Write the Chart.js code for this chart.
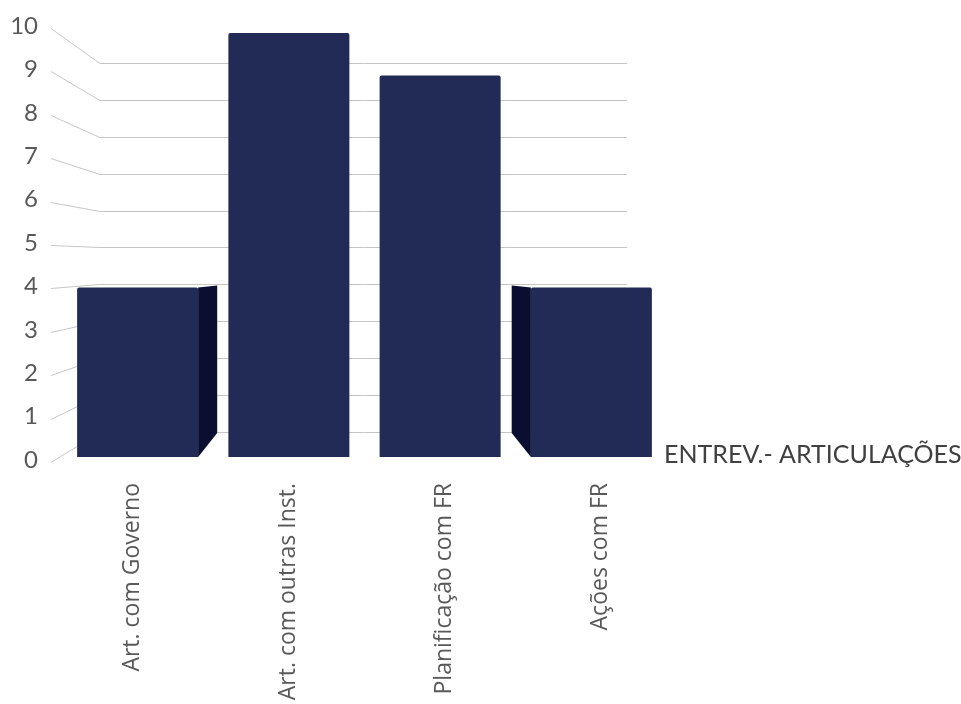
<!DOCTYPE html>
<html>
<head>
<meta charset="utf-8">
<script src="https://cdn.jsdelivr.net/npm/chart.js@4.4.1/dist/chart.umd.min.js"></script>
<style>
  body { margin: 0; background: #fff; }
</style>
</head>
<body>
<canvas id="articulacoes" width="961" height="704"></canvas>
<script>
// data -----------------------------------------------------------------
const categories = ['Art. com Governo', 'Art. com outras Inst.', 'Planificação com FR', 'Ações com FR'];
const values = [4, 10, 9, 4];
const yTicks = [0, 1, 2, 3, 4, 5, 6, 7, 8, 9, 10];
const seriesName = 'ENTREV.- ARTICULAÇÕES';

const barColor = '#222a56';
const sideColor = '#0a0e30';

// fake excel 3d: back wall grid + side faces of the bars
const depth3d = {
  id: 'depth3d',
  beforeDatasetsDraw(chart) {
    const {ctx, chartArea, scales} = chart;
    const y = scales.y, y2 = scales.y2;
    const backY = v => 34.3 + 0.87 * y.getPixelForValue(v);
    const wallX0 = chartArea.left - 11, wallX1 = chartArea.left + 38, wallX2 = chartArea.right - 40;
    ctx.save();
    ctx.strokeStyle = '#c6c6c6';
    ctx.lineWidth = 1;
    yTicks.forEach(v => {
      const fy = Math.round(y2.getPixelForValue(v) + 2) + 0.5;
      const by = Math.round(backY(v)) + 0.5;
      ctx.beginPath();
      ctx.moveTo(wallX0, fy);
      ctx.lineTo(wallX1, by);
      ctx.lineTo(wallX2, by);
      ctx.stroke();
    });
    ctx.restore();
  },
  afterDatasetsDraw(chart) {
    const {ctx} = chart;
    const meta = chart.getDatasetMeta(0);
    const cx = 364, k = 0.885;
    const bx = x => cx + (x - cx) * k;
    ctx.save();
    ctx.fillStyle = sideColor;
    meta.data.forEach(bar => {
      const p = bar.getProps(['x', 'y', 'base', 'width'], true);
      const left = p.x - p.width / 2, right = p.x + p.width / 2;
      const edge = right < cx ? right : (left > cx ? left : null);
      if (edge === null || Math.abs(bx(edge) - edge) < 3) return;
      ctx.beginPath();
      ctx.moveTo(edge, p.y);
      ctx.lineTo(bx(edge), p.y - 2);
      ctx.lineTo(bx(edge), p.base - 24);
      ctx.lineTo(edge, p.base);
      ctx.closePath();
      ctx.fill();
    });
    // series name, where excel put it
    ctx.fillStyle = '#404040';
    ctx.font = '25px Lato';
    ctx.textBaseline = 'middle';
    ctx.textAlign = 'left';
    ctx.fillText(chart.data.datasets[0].label, 664, 455);
    ctx.restore();
  }
};

const ctx = document.getElementById('articulacoes');
new Chart(ctx, {
  type: 'bar',
  data: {
    labels: categories,
    datasets: [
      {
        label: seriesName,
        data: values,
        backgroundColor: barColor,
        borderWidth: 0,
        borderRadius: 2,
        barPercentage: 0.8,
        categoryPercentage: 1,
        xAxisID: 'x',
        yAxisID: 'y'
      }
    ]
  },
  options: {
    responsive: false,
    animation: false,
    layout: {
      padding: {top: 20, right: 294, left: 0, bottom: 0}
    },
    scales: {
      x: {
        display: false
      },
      // label axis, spread a bit wider like the perspective front edge
      x2: {
        type: 'linear',
        position: 'bottom',
        offset: false,
        min: -0.448,
        max: 3.423,
        grid: {display: false, drawTicks: false, offset: false},
        border: {display: false},
        afterBuildTicks(axis) {
          axis.ticks = categories.map((c, i) => ({value: i}));
        },
        ticks: {
          autoSkip: false,
          minRotation: 90,
          maxRotation: 90,
          padding: 26,
          color: '#595959',
          font: {family: 'Open Sans', size: 23},
          callback: v => categories[v]
        },
        afterFit(scale) {
          scale.height = 247;
          scale.paddingLeft = 0;
          scale.paddingRight = 0;
        }
      },
      y: {
        display: false,
        min: 0,
        max: 10.307
      },
      y2: {
        position: 'left',
        min: 0.069,
        max: 10.138,
        grid: {display: false, drawTicks: false},
        border: {display: false},
        afterBuildTicks(axis) {
          axis.ticks = yTicks.map(v => ({value: v}));
        },
        ticks: {
          padding: 24,
          color: '#595959',
          font: {family: 'Lato', size: 24}
        },
        afterFit(scale) {
          scale.width = 62;
          scale.paddingTop = 0;
          scale.paddingBottom = 0;
        }
      }
    },
    plugins: {
      legend: {display: false},
      tooltip: {enabled: false}
    }
  },
  plugins: [depth3d]
});
</script>
</body>
</html>
